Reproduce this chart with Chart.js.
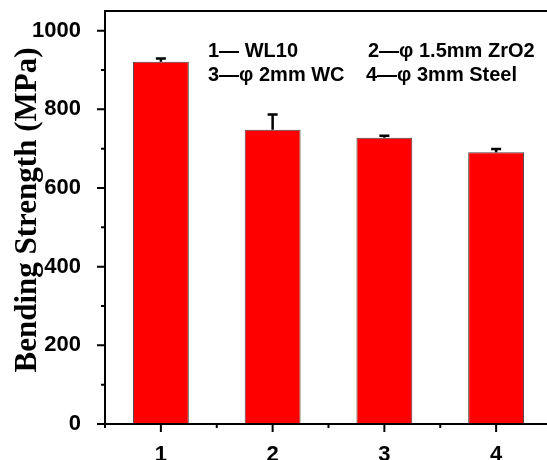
<!DOCTYPE html>
<html lang="en">
<head>
<meta charset="UTF-8">
<title>Bending Strength</title>
<script src="https://cdn.jsdelivr.net/npm/chart.js@4"></script>
<style>
    html, body { margin: 0; padding: 0; background: #fff; overflow: hidden; }
    /* canvas a bit wider than the window: the right frame edge is cut off like in the figure */
    #box { position: relative; width: 560px; height: 460px; }
</style>
</head>
<body>
<div id="box"><canvas id="grafico"></canvas></div>
<script>
// data
const samples = [1, 2, 3, 4];
const strength = [921, 748, 728, 691];
const errors = [8, 39, 5, 8];
const yTicks = [0, 200, 400, 600, 800, 1000];
const yMinorTicks = [100, 300, 500, 700, 900];
const xMinorTicks = [0.5, 1.5, 2.5, 3.5, 4.5];
const legendLines = [
    ['1\u2014 WL10', '2\u2014\u03c6 1.5mm ZrO2'],
    ['3\u2014\u03c6 2mm WC', '4\u2014\u03c6 3mm Steel']
];

// frame, tick marks, error bars, axis title and legend text
const extras = {
    id: 'extras',
    afterDatasetsDraw(chart) {
        const ctx = chart.ctx;
        const xs = chart.scales.x;
        const ys = chart.scales.y;
        const a = chart.chartArea;
        ctx.save();
        ctx.strokeStyle = '#000';

        // error bars (only upper half shows above the bar)
        ctx.lineWidth = 2.5;
        for (let i = 0; i < samples.length; i++) {
            const px = xs.getPixelForValue(samples[i]);
            const y0 = ys.getPixelForValue(strength[i]);
            const y1 = ys.getPixelForValue(strength[i] + errors[i]);
            ctx.beginPath();
            ctx.moveTo(px, y0);
            ctx.lineTo(px, y1);
            ctx.moveTo(px - 5, y1);
            ctx.lineTo(px + 5, y1);
            ctx.stroke();
        }

        // frame
        ctx.lineWidth = 2;
        ctx.strokeRect(a.left, a.top, a.right - a.left, a.bottom - a.top);

        // y ticks
        ctx.beginPath();
        yTicks.forEach(v => {
            const py = ys.getPixelForValue(v);
            ctx.moveTo(a.left, py);
            ctx.lineTo(a.left - 8, py);
        });
        yMinorTicks.forEach(v => {
            const py = ys.getPixelForValue(v);
            ctx.moveTo(a.left, py);
            ctx.lineTo(a.left - 4, py);
        });
        // x ticks
        samples.forEach(v => {
            const px = xs.getPixelForValue(v);
            ctx.moveTo(px, a.bottom);
            ctx.lineTo(px, a.bottom + 8);
        });
        xMinorTicks.forEach(v => {
            const px = xs.getPixelForValue(v);
            ctx.moveTo(px, a.bottom);
            ctx.lineTo(px, a.bottom + 4);
        });
        ctx.stroke();

        // y title
        ctx.fillStyle = '#000';
        ctx.translate(28, 210);
        ctx.rotate(-Math.PI / 2);
        ctx.font = 'bold 31px "Liberation Serif", "Times New Roman", serif';
        ctx.textAlign = 'center';
        ctx.textBaseline = 'middle';
        ctx.fillText('Bending Strength (MPa)', 0, 0);
        ctx.restore();

        // legend text
        ctx.save();
        ctx.fillStyle = '#000';
        ctx.font = 'bold 20px "Liberation Sans", Arial, sans-serif';
        ctx.textBaseline = 'alphabetic';
        ctx.fillText(legendLines[0][0], 208, 57);
        ctx.fillText(legendLines[0][1], 368, 57);
        ctx.fillText(legendLines[1][0], 208, 81);
        ctx.fillText(legendLines[1][1], 366, 81);
        ctx.restore();
    }
};

const tickFont = { family: '"Liberation Sans", Arial, sans-serif', size: 22, weight: 'bold' };

new Chart(document.getElementById('grafico'), {
    type: 'bar',
    data: {
        datasets: [{
            data: samples.map((s, i) => ({ x: s, y: strength[i] })),
            backgroundColor: '#ff0000',
            borderColor: '#444',
            borderWidth: 1,
            barPercentage: 0.5,
            categoryPercentage: 1
        }]
    },
    options: {
        responsive: true,
        maintainAspectRatio: false,
        animation: false,
        layout: { autoPadding: false, padding: { top: 11, right: 8, left: 0, bottom: 0 } },
        plugins: { legend: { display: false }, tooltip: { enabled: false } },
        scales: {
            x: {
                type: 'linear',
                offset: false,
                min: 0.5,
                max: 4.5,
                grid: { display: false },
                border: { display: false },
                afterBuildTicks: axis => { axis.ticks = samples.map(v => ({ value: v })); },
                afterFit: axis => { axis.height = 36; axis.paddingLeft = 0; axis.paddingRight = 0; },
                ticks: { color: '#000', font: tickFont, padding: 10, maxRotation: 0, callback: v => String(v) }
            },
            y: {
                min: 0,
                max: 1050,
                grid: { display: false },
                border: { display: false },
                afterBuildTicks: axis => { axis.ticks = yTicks.map(v => ({ value: v })); },
                afterFit: axis => { axis.width = 105; axis.paddingTop = 0; axis.paddingBottom = 0; },
                ticks: { color: '#000', font: tickFont, padding: 16, callback: v => String(v) }
            }
        }
    },
    plugins: [extras]
});
</script>
</body>
</html>
